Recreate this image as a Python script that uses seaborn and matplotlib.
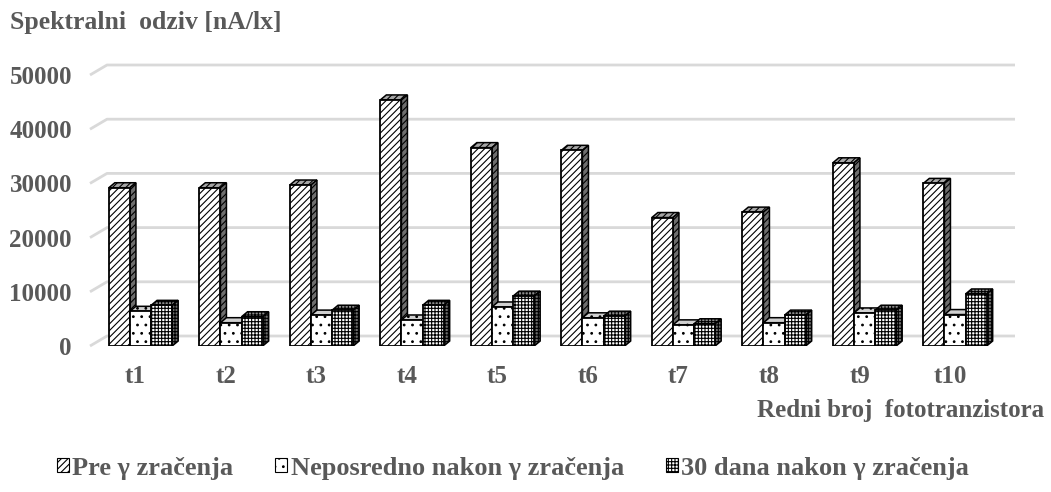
import numpy as np
import pandas as pd
import matplotlib
matplotlib.use("Agg")
import matplotlib.pyplot as plt
import matplotlib.transforms as mtransforms
from matplotlib.patches import Polygon, Patch
import seaborn as sns

# --- data -------------------------------------------------------------
categories = ["t1", "t2", "t3", "t4", "t5", "t6", "t7", "t8", "t9", "t10"]
series_names = ["Pre \u03b3 zra\u010denja",
                "Neposredno nakon \u03b3 zra\u010denja",
                "30 dana nakon \u03b3 zra\u010denja"]
pre = [29200, 29200, 29700, 45400, 36600, 36100, 23700, 24700, 33800, 30000]
neposredno = [6400, 4300, 5700, 4800, 7200, 5200, 3900, 4300, 6100, 5800]
dana30 = [7500, 5400, 6600, 7500, 9200, 5500, 4100, 5700, 6600, 9600]
y_ticks = [0, 10000, 20000, 30000, 40000, 50000]

df = pd.DataFrame({
    "kat": categories * 3,
    "serija": [series_names[0]] * 10 + [series_names[1]] * 10 + [series_names[2]] * 10,
    "odziv": pre + neposredno + dana30,
})

# --- styling ----------------------------------------------------------
sns.set_theme(style="white")
plt.rcParams["font.family"] = ["Liberation Serif", "DejaVu Serif"]
plt.rcParams["font.weight"] = "bold"
plt.rcParams["hatch.linewidth"] = 0.8
txt = "#595959"
FS = 18

W, H, DPI = 10.51, 4.92, 100
fig = plt.figure(figsize=(W, H), dpi=DPI)

# front plane of the plot (pixel layout)
ax_l, ax_r = 90, 998
ax_b, ax_t = 492 - 346, 492 - 75
ax = fig.add_axes([ax_l / 1051, ax_b / 492, (ax_r - ax_l) / 1051, (ax_t - ax_b) / 492])

sns.barplot(data=df, x="kat", y="odziv", hue="serija", hue_order=series_names,
            order=categories, palette=["white"] * 3, edgecolor="black",
            linewidth=1.3, width=0.7, saturation=1, legend=False, ax=ax, zorder=3)

px_x = 90.5          # pixels per category step
x_left = -(140.5 - ax_l) / px_x
x_right = x_left + (ax_r - ax_l) / px_x
ax.set_xlim(x_left, x_right)
ax.set_ylim(0, 50000)
px_y = (ax_t - ax_b) / 50000.0   # pixels per unit value

hatches = ["/////", "..", "+++++"]
side_cols = ["#6e6e6e", "#9a9a9a", "#6e6e6e"]
top_cols = ["#a6a6a6", "#d0d0d0", "#8c8c8c"]

# bar depth (3D look)
bdx, bdy = 6 / px_x, 5 / px_y
for k, cont in enumerate(ax.containers):
    for p in cont.patches:
        p.set_hatch(hatches[k])
        p.set_zorder(3 + k * 0.01)
        x0 = p.get_x()
        x1 = x0 + p.get_width()
        h = p.get_height()
        top = Polygon([(x0, h), (x1, h), (x1 + bdx, h + bdy), (x0 + bdx, h + bdy)],
                      closed=True, facecolor=top_cols[k], edgecolor="black",
                      linewidth=1.1, hatch=hatches[k], zorder=2.9 + k * 0.01)
        side = Polygon([(x1, 0), (x1 + bdx, bdy), (x1 + bdx, h + bdy), (x1, h)],
                       closed=True, facecolor=side_cols[k], edgecolor="black",
                       linewidth=1.1, hatch=hatches[k], zorder=2.9 + k * 0.01)
        ax.add_patch(top)
        ax.add_patch(side)

# back wall gridlines with a slanted floor edge
gdx, gdy = 17 / px_x, 10 / px_y
g_right = x_left + (1015 - ax_l) / px_x
for v in y_ticks:
    ax.plot([x_left, x_left + gdx, g_right], [v, v + gdy, v + gdy],
            color="#d9d9d9", linewidth=2, zorder=1, clip_on=False,
            solid_capstyle="butt")

for s in ax.spines.values():
    s.set_visible(False)
ax.grid(False)
ax.set_xlabel("")
ax.set_ylabel("")
ax.set_yticks(y_ticks)
ax.set_yticklabels([str(v) for v in y_ticks])
ax.tick_params(axis="y", length=0, pad=13, labelsize=FS, labelcolor=txt)
ax.tick_params(axis="x", length=0, pad=14, labelsize=FS, labelcolor=txt)
shift = mtransforms.ScaledTranslation(-5 / DPI, 0, fig.dpi_scale_trans)
for lab in ax.get_xticklabels():
    lab.set_transform(lab.get_transform() + shift)
for lab in ax.get_xticklabels() + ax.get_yticklabels():
    lab.set_fontweight("bold")

fig.text(10 / 1051, 1 - 22 / 492, "Spektralni  odziv [nA/lx]", ha="left", va="center",
         fontsize=18.5, color=txt, fontweight="bold")
fig.text(1044 / 1051, 1 - 410 / 492, "Redni broj  fototranzistora", ha="right",
         va="center", fontsize=FS, color=txt, fontweight="bold")

handles = [Patch(facecolor="white", edgecolor="black", hatch=hatches[i], linewidth=0.8,
                 label=series_names[i]) for i in range(3)]
leg = fig.legend(handles=handles, loc="center", bbox_to_anchor=(513 / 1051, 1 - 468 / 492),
                 ncol=3, frameon=False, fontsize=19, handlelength=0.45, handleheight=0.45,
                 handletextpad=0.12, columnspacing=1.6)
for t in leg.get_texts():
    t.set_color(txt)
    t.set_fontweight("bold")

fig.savefig("out.png", dpi=DPI)
